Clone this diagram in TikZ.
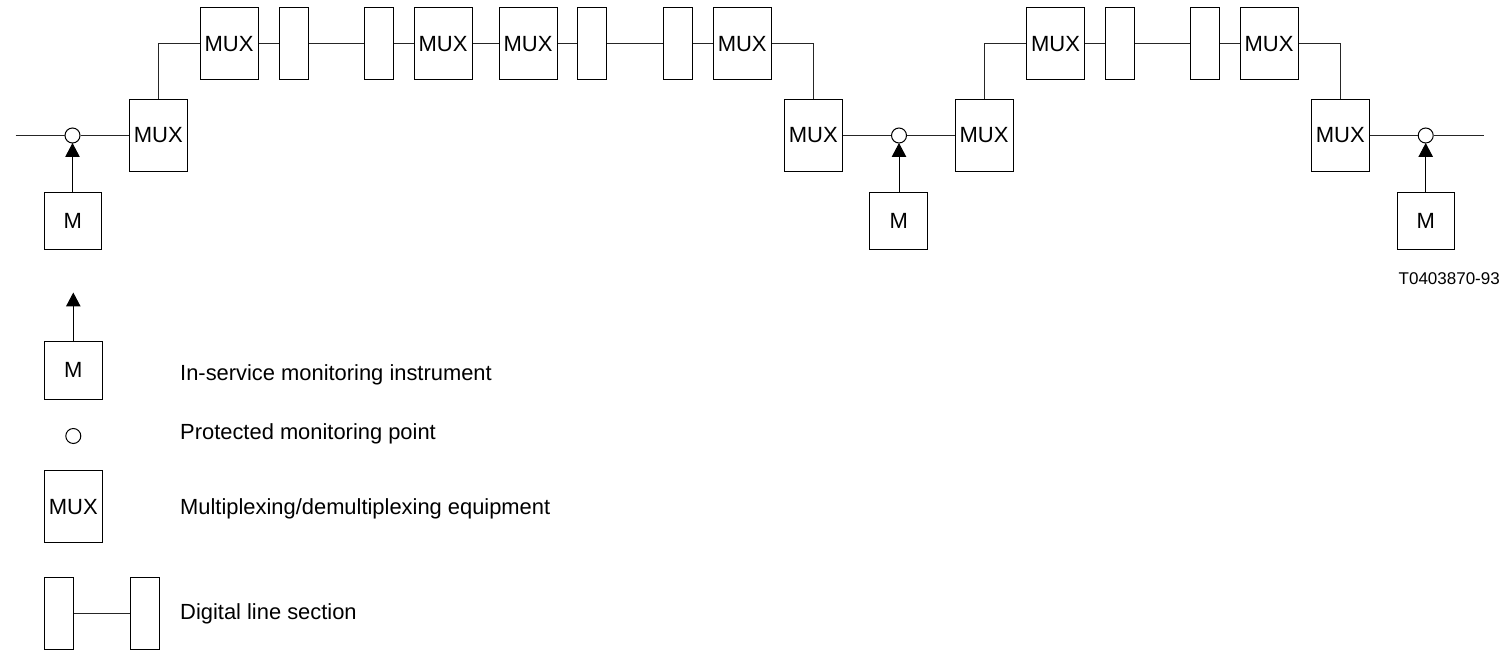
\documentclass[tikz,border=0pt]{standalone}
\usepackage{fontspec}
\setmainfont{Liberation Sans}
\usetikzlibrary{arrows.meta}
\tikzset{
  box/.style={draw=black,line width=1pt,fill=white,inner sep=0pt,align=center,font=\fontsize{22}{26}\selectfont,text height=15.7pt,text depth=0pt},
  muxbox/.style={box,minimum width=58pt,minimum height=72pt},
  lowmux/.style={muxbox,text depth=3.5pt},
  mbox/.style={box,minimum width=57.5pt,minimum height=57pt,text depth=2.5pt},
  linebox/.style={box,minimum width=29pt,minimum height=72pt},
  point/.style={circle,draw=black,line width=1pt,fill=white,inner sep=0pt,minimum size=15pt},
  conn/.style={line width=1pt,draw=black!85},
  probe/.style={line width=1pt,draw=black,-{Triangle[length=14pt,width=14.5pt]},shorten >=-0.5pt},
  legend/.style={anchor=base west,inner sep=0pt,font=\fontsize{21.9}{26}\selectfont},
  ref/.style={anchor=base east,inner sep=0pt,font=\fontsize{17}{20}\selectfont}
}
\begin{document}
\begin{tikzpicture}[x=1pt,y=-1pt]
\useasboundingbox (0,0) rectangle (1505,652);
% section 1
\coordinate (start) at (15.5,135.5);
\node[lowmux] (a0) at (158.3,136) {MUX};
\node[point] (p1) at (72.5,135.5) {};
\node[mbox] (m1) at (72.8,221.5) {M};
\node[muxbox] (a1) at (229,43.5) {MUX};
\node[linebox] (l1) at (293.5,43.5) {};
\node[linebox] (l2) at (378.7,43.5) {};
\node[muxbox] (a2) at (443,43.5) {MUX};
\node[muxbox] (a3) at (528,43.5) {MUX};
\node[linebox] (l3) at (592,43.5) {};
\node[linebox] (l4) at (677.7,43.5) {};
\node[muxbox] (a4) at (742.2,43.5) {MUX};
\node[lowmux] (a5) at (813.3,136) {MUX};
\node[point] (p2) at (899,135.5) {};
\node[mbox] (m2) at (898.7,221.5) {M};
% section 2
\node[lowmux] (b0) at (984,136) {MUX};
\node[muxbox] (b1) at (1055.5,43.5) {MUX};
\node[linebox] (l5) at (1119.8,43.5) {};
\node[linebox] (l6) at (1205,43.5) {};
\node[muxbox] (b2) at (1269,43.5) {MUX};
\node[lowmux] (b3) at (1340.3,136) {MUX};
\node[point] (p3) at (1425.7,135.5) {};
\node[mbox] (m3) at (1425.8,221.5) {M};
\coordinate (stop) at (1483.7,135.5);
% connectors
\draw[conn] (start) -- (p1);
\draw[conn] (p1) -- (a0.west |- p1);
\draw[conn] (a0.north) |- (a1.west);
\draw[conn] (a1) -- (l1);
\draw[conn] (l1) -- (l2);
\draw[conn] (l2) -- (a2);
\draw[conn] (a2) -- (a3);
\draw[conn] (a3) -- (l3);
\draw[conn] (l3) -- (l4);
\draw[conn] (l4) -- (a4);
\draw[conn] (a4.east) -| (a5.north);
\draw[conn] (a5.east |- p2) -- (p2);
\draw[conn] (p2) -- (b0.west |- p2);
\draw[conn] (b0.north) |- (b1.west);
\draw[conn] (b1) -- (l5);
\draw[conn] (l5) -- (l6);
\draw[conn] (l6) -- (b2);
\draw[conn] (b2.east) -| (b3.north);
\draw[conn] (b3.east |- p3) -- (p3);
\draw[conn] (p3) -- (stop);
\draw[probe] (m1.north -| p1) -- (p1.south);
\draw[probe] (m2.north -| p2) -- (p2.south);
\draw[probe] (m3.north -| p3) -- (p3.south);
% reference
\node[ref] (code) at (1500,285) {T0403870-93};
% legend
\node[mbox] (lm) at (73.3,370.5) {M};
\coordinate (ltip) at (73.3,293);
\draw[probe] (lm.north) -- (ltip);
\node[point] (lp) at (73.3,436) {};
\node[muxbox] (lx) at (73.3,506.5) {MUX};
\node[linebox] (ll1) at (59,613.5) {};
\node[linebox] (ll2) at (144.5,613.5) {};
\draw[conn] (ll1) -- (ll2);
\node[legend] (t1) at (180,381) {In-service monitoring instrument};
\node[legend] (t2) at (180,439) {Protected monitoring point};
\node[legend] (t3) at (180,514) {Multiplexing/demultiplexing equipment};
\node[legend] (t4) at (180,619) {Digital line section};
\end{tikzpicture}
\end{document}
